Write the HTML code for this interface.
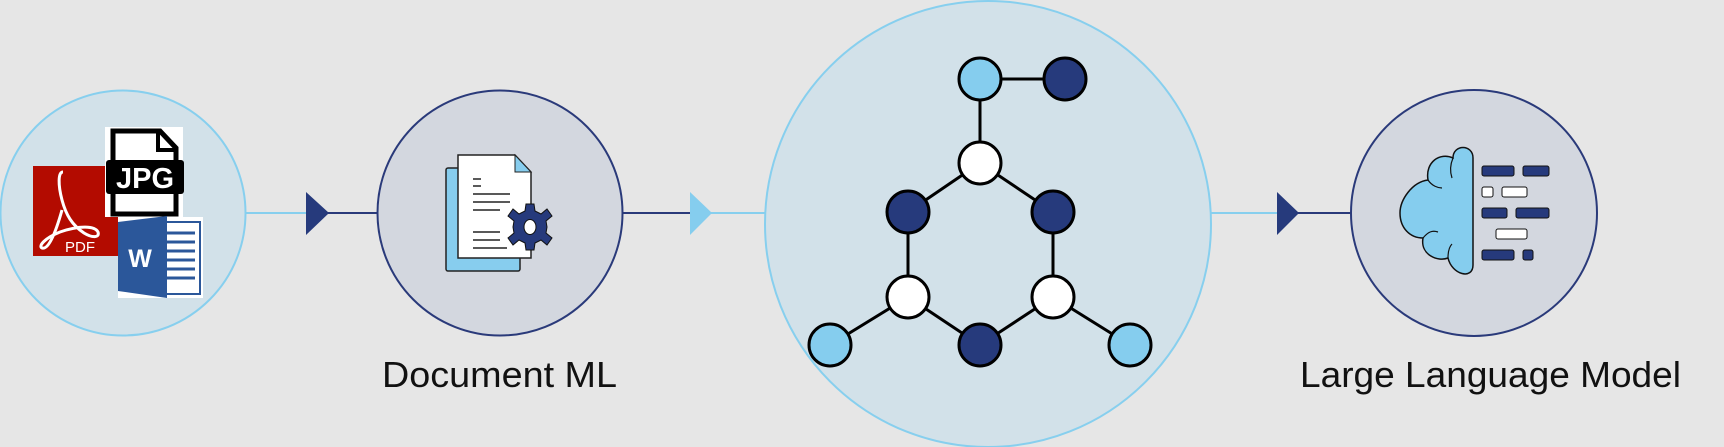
<!DOCTYPE html>
<html><head><meta charset="utf-8"><style>
html,body{margin:0;padding:0;background:#e6e6e6;}
svg{display:block;}
</style></head><body>
<svg width="1724" height="447" viewBox="0 0 1724 447" xmlns="http://www.w3.org/2000/svg">
<rect width="1724" height="447" fill="#e6e6e6"/>
<!-- connectors -->
<line x1="246" y1="213" x2="308" y2="213" stroke="#87cfee" stroke-width="2"/>
<line x1="326" y1="213" x2="378" y2="213" stroke="#2a3a7a" stroke-width="2"/>
<polygon points="306,192 329,213 306,235" fill="#263a7c"/>
<line x1="623" y1="213" x2="692" y2="213" stroke="#2a3a7a" stroke-width="2"/>
<line x1="710" y1="213" x2="766" y2="213" stroke="#87cfee" stroke-width="2"/>
<polygon points="690,192 712,213 690,235" fill="#85cdee"/>
<line x1="1211" y1="213" x2="1279" y2="213" stroke="#87cfee" stroke-width="2"/>
<line x1="1297" y1="213" x2="1351" y2="213" stroke="#2a3a7a" stroke-width="2"/>
<polygon points="1277,192 1299,213 1277,235" fill="#263a7c"/>
<!-- circles -->
<circle cx="123" cy="213" r="122.5" fill="#d2e1e9" stroke="#87cfee" stroke-width="2"/>
<circle cx="500" cy="213" r="122.5" fill="#d3d7df" stroke="#2a3a7a" stroke-width="2"/>
<circle cx="988" cy="224" r="223" fill="#d2e1e9" stroke="#87cfee" stroke-width="2"/>
<circle cx="1474" cy="213" r="123" fill="#d3d7df" stroke="#2a3a7a" stroke-width="2"/>
<!-- file icons -->
<rect x="33" y="166" width="85" height="90" fill="#b30b00"/>
<path d="M63,172 C58,172 58,185 62,200 C66,215 72,225 84,233 C92,238 100,238 98,232 C95,226 80,225 60,232 C45,238 38,246 42,248 C48,250 55,235 62,210" fill="none" stroke="#fff" stroke-width="3"/>
<text x="80" y="252" font-family="Liberation Sans, sans-serif" font-size="15" fill="#fff" text-anchor="middle">PDF</text>
<rect x="105" y="127" width="78" height="90" fill="#fff"/>
<path d="M113,131 L160,131 L176,148 L176,214 L113,214 Z" fill="#fff" stroke="#000" stroke-width="5"/>
<path d="M158,131 L158,150 L176,150" fill="none" stroke="#000" stroke-width="4"/>
<rect x="106" y="160" width="78" height="34" rx="3" fill="#000"/>
<text x="145" y="188" font-family="Liberation Sans, sans-serif" font-weight="bold" font-size="29" fill="#fff" text-anchor="middle">JPG</text>
<rect x="118" y="217" width="85" height="81" fill="#fff"/>
<rect x="150" y="222" width="50" height="72" fill="#fff" stroke="#2b579a" stroke-width="2"/>
<g stroke="#2b579a" stroke-width="3"><line x1="165" y1="233" x2="195" y2="233"/><line x1="165" y1="242" x2="195" y2="242"/><line x1="165" y1="251" x2="195" y2="251"/><line x1="165" y1="260" x2="195" y2="260"/><line x1="165" y1="269" x2="195" y2="269"/><line x1="165" y1="278" x2="195" y2="278"/></g>
<polygon points="118,222 167,216 167,298 118,291" fill="#2b579a"/>
<text x="140" y="267" font-family="Liberation Sans, sans-serif" font-weight="bold" font-size="25" fill="#fff" text-anchor="middle">W</text>
<!-- document ML icon -->
<rect x="446" y="168" width="74" height="103" rx="2" fill="#87cdee" stroke="#222" stroke-width="1.5"/>
<path d="M458,155 L515,155 L531,172 L531,258 L458,258 Z" fill="#fff" stroke="#222" stroke-width="1.5"/>
<path d="M515,155 L515,172 L531,172 Z" fill="#87cdee" stroke="#222" stroke-width="1"/>
<g stroke="#222" stroke-width="1.5"><line x1="473" y1="179" x2="481" y2="179"/><line x1="473" y1="186" x2="481" y2="186"/><line x1="473" y1="194" x2="510" y2="194"/><line x1="473" y1="202" x2="510" y2="202"/><line x1="473" y1="210" x2="500" y2="210"/><line x1="473" y1="232" x2="500" y2="232"/><line x1="473" y1="240" x2="500" y2="240"/><line x1="473" y1="248" x2="507" y2="248"/></g>
<g transform="translate(530,227)" fill="#263a7c" stroke="#111" stroke-width="1">
<path d="M-4,-23 L4,-23 L5,-16 L11,-13 L17,-18 L22,-11 L16,-6 L17,0 L16,6 L22,11 L17,18 L11,13 L5,16 L4,23 L-4,23 L-5,16 L-11,13 L-17,18 L-22,11 L-16,6 L-17,0 L-16,-6 L-22,-11 L-17,-18 L-11,-13 L-5,-16 Z"/>
<ellipse cx="0" cy="0" rx="6" ry="7.5" fill="#fff"/>
</g>
<!-- molecule -->
<g stroke="#000" stroke-width="3">
<line x1="980" y1="79" x2="1065" y2="79"/><line x1="980" y1="79" x2="980" y2="163"/>
<line x1="980" y1="163" x2="908" y2="212"/><line x1="980" y1="163" x2="1053" y2="212"/>
<line x1="908" y1="212" x2="908" y2="297"/><line x1="1053" y1="212" x2="1053" y2="297"/>
<line x1="908" y1="297" x2="980" y2="345"/><line x1="1053" y1="297" x2="980" y2="345"/>
<line x1="908" y1="297" x2="830" y2="345"/><line x1="1053" y1="297" x2="1130" y2="345"/>
</g>
<g stroke="#000" stroke-width="3">
<circle cx="980" cy="79" r="21" fill="#85cdee"/><circle cx="1065" cy="79" r="21" fill="#263a7c"/>
<circle cx="980" cy="163" r="21" fill="#fff"/>
<circle cx="908" cy="212" r="21" fill="#263a7c"/><circle cx="1053" cy="212" r="21" fill="#263a7c"/>
<circle cx="908" cy="297" r="21" fill="#fff"/><circle cx="1053" cy="297" r="21" fill="#fff"/>
<circle cx="980" cy="345" r="21" fill="#263a7c"/>
<circle cx="830" cy="345" r="21" fill="#85cdee"/><circle cx="1130" cy="345" r="21" fill="#85cdee"/>
</g>
<!-- LLM icon -->
<path d="M1473,158 C1473,144 1453,144 1453,158 C1440,152 1425,162 1428,180 C1412,182 1400,200 1400,213 C1400,228 1410,238 1423,238 C1420,255 1438,262 1448,258 C1452,275 1473,280 1473,265 Z" fill="#85cdee" stroke="#111" stroke-width="1.5"/>
<g fill="none" stroke="#111" stroke-width="1.2"><path d="M1428,180 C1432,186 1438,188 1442,188"/><path d="M1423,238 C1428,232 1432,230 1438,232"/><path d="M1453,158 C1450,165 1450,172 1452,178"/><path d="M1448,258 C1448,250 1450,246 1452,244"/></g>
<g stroke="#111" stroke-width="1">
<rect x="1482" y="166" width="32" height="10" rx="2" fill="#263a7c"/><rect x="1523" y="166" width="26" height="10" rx="2" fill="#263a7c"/>
<rect x="1482" y="187" width="11" height="10" rx="2" fill="#fff"/><rect x="1502" y="187" width="25" height="10" rx="2" fill="#fff"/>
<rect x="1482" y="208" width="25" height="10" rx="2" fill="#263a7c"/><rect x="1516" y="208" width="33" height="10" rx="2" fill="#263a7c"/>
<rect x="1496" y="229" width="31" height="10" rx="2" fill="#fff"/>
<rect x="1482" y="250" width="32" height="10" rx="2" fill="#263a7c"/><rect x="1523" y="250" width="10" height="10" rx="2" fill="#263a7c"/>
</g>
<!-- labels -->
<text x="382" y="387" font-family="Liberation Sans, sans-serif" font-size="36" fill="#111" textLength="235" lengthAdjust="spacingAndGlyphs">Document ML</text>
<text x="1300" y="387" font-family="Liberation Sans, sans-serif" font-size="36" fill="#111" textLength="381" lengthAdjust="spacingAndGlyphs">Large Language Model</text>
</svg>
</body></html>
